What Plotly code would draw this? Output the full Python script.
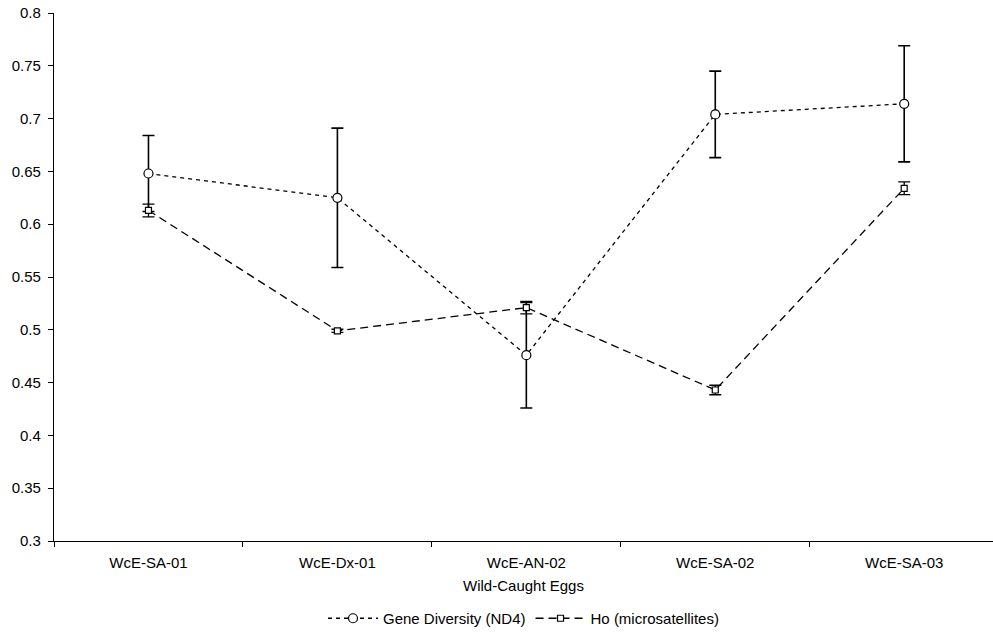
import plotly.graph_objects as go

categories = ["WcE-SA-01", "WcE-Dx-01", "WcE-AN-02", "WcE-SA-02", "WcE-SA-03"]
gene_div = [0.648, 0.625, 0.476, 0.704, 0.714]
gene_err = [0.036, 0.066, 0.050, 0.041, 0.055]
ho = [0.613, 0.499, 0.521, 0.443, 0.634]
ho_err = [0.006, 0.0015, 0.006, 0.0045, 0.006]
y_ticks = [0.3, 0.35, 0.4, 0.45, 0.5, 0.55, 0.6, 0.65, 0.7, 0.75, 0.8]
y_ticktext = ["0.3", "0.35", "0.4", "0.45", "0.5", "0.55", "0.6", "0.65", "0.7", "0.75", "0.8"]

fig = go.Figure()
fig.add_trace(go.Scatter(
    x=categories, y=gene_div, name="Gene Diversity (ND4)",
    mode="lines+markers",
    line=dict(color="black", width=1.3, dash="4px,4px"),
    marker=dict(symbol="circle", size=9, color="white", line=dict(color="black", width=1.2)),
    error_y=dict(type="data", array=gene_err, visible=True, color="black", thickness=1.6, width=6),
))
fig.add_trace(go.Scatter(
    x=categories, y=ho, name="Ho (microsatellites)",
    mode="lines+markers",
    line=dict(color="black", width=1.3, dash="8px,5px"),
    marker=dict(symbol="square", size=6, color="white", line=dict(color="black", width=1.2)),
    error_y=dict(type="data", array=ho_err, visible=True, color="black", thickness=1.3, width=6),
))

fig.update_layout(
    width=993, height=635, autosize=False,
    margin=dict(l=54, r=0, t=13, b=93),
    paper_bgcolor="white", plot_bgcolor="white",
    font=dict(family="Liberation Sans, Arial, sans-serif", size=15, color="black"),
    showlegend=True,
    legend=dict(orientation="h", x=0.5, xanchor="center", y=-0.147, yanchor="middle",
                font=dict(size=15), traceorder="normal", itemwidth=50),
    xaxis=dict(
        type="category", range=[-0.5, 4.47], automargin=False,
        showline=True, linecolor="black", linewidth=1.3,
        ticks="outside", tickson="boundaries", ticklen=5, tickcolor="black",
        ticklabelstandoff=8,
        showgrid=False, zeroline=False,
        title=dict(text="Wild-Caught Eggs", standoff=10, font=dict(size=15)),
    ),
    yaxis=dict(
        range=[0.3, 0.8], tickvals=y_ticks, ticktext=y_ticktext, automargin=False,
        showline=True, linecolor="black", linewidth=1.3,
        ticks="outside", ticklen=5, tickcolor="black",
        ticklabelstandoff=4, ticklabeloverflow="allow",
        showgrid=False, zeroline=False,
    ),
)

fig.write_html("out.html",
               config={"displayModeBar": False},
               post_script="document.body.style.margin='0';document.body.style.overflow='hidden';")
